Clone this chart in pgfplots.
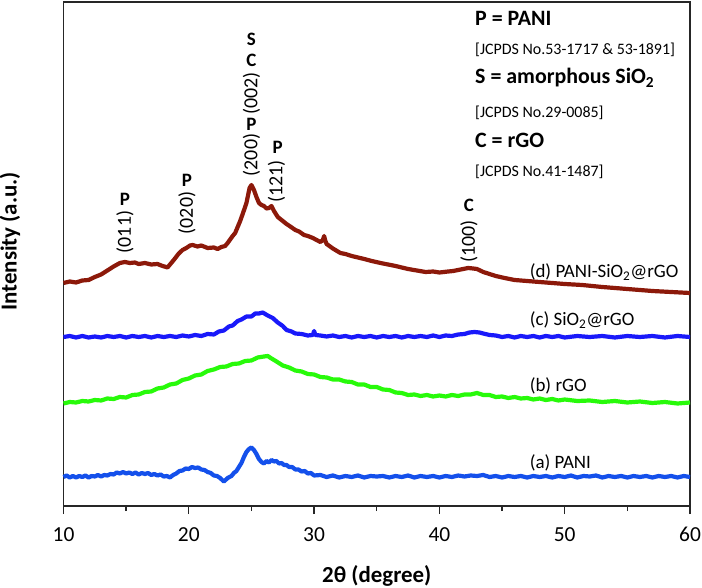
\documentclass[border=0pt]{standalone}
\usepackage{fontspec}
\setmainfont{Carlito}
\usepackage{pgfplots}
\pgfplotsset{compat=1.18}
\definecolor{cpani}{RGB}{20,80,235}
\definecolor{crgo}{RGB}{40,250,10}
\definecolor{csirgo}{RGB}{25,25,250}
\definecolor{ccomp}{RGB}{140,25,10}
\begin{document}
\begin{tikzpicture}
\useasboundingbox (-63.5bp,-82bp) rectangle (638.5bp,506bp);
\begin{axis}[
 scale only axis, width=626.5bp, height=504bp,
 at={(0,0)}, anchor=south west,
 xmin=10, xmax=60, ymin=0, ymax=504,
 xtick={10,20,...,60}, minor xtick={15,25,...,55},
 ytick=\empty, xtick pos=lower, tick align=outside,
 major tick length=8bp, minor tick length=5bp,
 axis line style={line width=1.6bp, color=black!85},
 every tick/.style={line width=1.4bp, color=black!85},
 /pgf/number format/assume math mode=true,
 ticklabel style={font=\fontsize{21.5}{24}\selectfont},
 xticklabel style={yshift=-10bp},
 xlabel={\bfseries 2θ (degree)},
 ylabel={\bfseries Intensity (a.u.)},
 label style={font=\fontsize{23}{26}\selectfont},
 xlabel style={at={(axis description cs:0.5,-0.139)}, anchor=center},
 ylabel style={at={(axis description cs:-0.0854,0.525)}, anchor=center},
 clip=false,
 every axis plot/.append style={line width=4.2bp, line join=round, no markers},
]
% (a) PANI
\addplot[cpani] coordinates {(10,29)(10.25,30.5)(10.5,28.5)(10.75,30)(11,28.5)(11.25,30)(11.5,29)(11.75,30.5)(12,28.5)(12.25,30)(12.5,29.5)(12.75,31)(13,29.5)(13.25,31)(13.5,30.5)(13.75,32)(14,31.5)(14.25,33.5)(14.5,32.5)(14.75,34)(15,32.5)(15.25,33.5)(15.5,32)(15.75,33.5)(16,31.5)(16.25,33)(16.5,32)(16.75,33)(17,31)(17.25,32)(17.5,30.5)(17.75,31.5)(18,29.5)(18.25,30)(18.5,28.5)(18.75,31)(19,32.5)(19.25,35)(19.5,35.5)(19.75,37.5)(20,37)(20.25,39)(20.5,38)(20.75,38.5)(21,36.5)(21.25,36)(21.5,34)(21.75,33)(22,30.5)(22.25,30)(22.5,28)(22.8,24.5)(23.1,28)(23.4,30)(23.6,33)(23.8,35)(24,39)(24.2,43)(24.4,49)(24.6,54)(24.8,57)(25,58.5)(25.2,56)(25.4,52)(25.6,47)(25.8,44)(26,42.5)(26.2,45)(26.4,43.5)(26.6,46)(26.8,44.5)(27,45)(27.2,42.5)(27.4,43)(27.6,41)(27.8,41)(28,39)(28.25,39)(28.5,36.5)(28.75,36.5)(29,34.5)(29.25,35)(29.5,32.5)(29.75,33)(30,30.5)(30.5,31)(31,29)(31.5,30.5)(32,28.5)(32.5,30)(33,29)(33.5,30.5)(34,28.5)(34.5,30)(35,29.5)(35.5,30)(36,28.5)(36.5,30)(37,29)(37.5,30.5)(38,28.5)(38.5,30)(39,29)(39.5,30)(40,28.5)(40.5,30)(41,29)(41.5,30.5)(42,29.5)(42.5,30.5)(43,30)(43.5,31)(44,29)(44.5,30)(45,28.5)(45.5,30)(46,29)(46.5,30)(47,28.5)(47.5,30)(48,29)(48.5,30)(49,28.5)(49.5,30)(50,29)(50.5,30.5)(51,28.5)(51.5,30)(52,29.5)(52.5,30.5)(53,28.5)(53.5,30)(54,29)(54.5,30)(55,28.5)(55.5,30)(56,29)(56.5,30)(57,28.5)(57.5,30)(58,29)(58.5,30)(59,28.5)(59.5,30)(60,29)};
% (b) rGO
\addplot[crgo] coordinates {(10,102.5)(10.5,104)(11,103.5)(11.5,105)(12,104.5)(12.5,106)(13,105.5)(13.5,107.5)(14,107)(14.5,109)(15,108.5)(15.5,111)(16,111.5)(16.5,114)(17,114.5)(17.5,117.5)(18,118.5)(18.5,121.5)(19,122.5)(19.5,126)(20,127.5)(20.5,130.5)(21,131.5)(21.5,135)(22,136.5)(22.5,139)(23,139.5)(23.5,142)(24,142.5)(24.5,145)(25,145.5)(25.5,148.5)(26,149.5)(26.3,150)(26.6,147.5)(27,144.5)(27.5,140.5)(28,138.5)(28.5,135.5)(29,134.5)(29.5,132)(30,131.5)(30.5,129)(31,128.5)(31.5,126.5)(32,126.5)(32.5,124.5)(33,124)(33.5,121.5)(34,121.5)(34.5,119)(35,119)(35.5,116.5)(36,116)(36.5,113.5)(37,113)(37.5,111)(38,111.5)(38.5,110)(39,111)(39.5,109.5)(40,110.5)(40.5,109.5)(41,111)(41.5,110)(42,111.5)(42.5,111.5)(43,113)(43.5,111)(44,111)(44.5,109)(45,109.5)(45.5,108)(46,109)(46.5,107.5)(47,108)(47.5,106.5)(48,107.5)(48.5,106)(49,107)(49.5,105.5)(50,106.5)(51,105)(52,105.5)(53,104)(54,105)(55,103.5)(56,104.5)(57,103)(58,104)(59,102.5)(60,103.5)};
% (c) SiO2@rGO
\addplot[csirgo] coordinates {(10,169)(10.5,170)(11,168.5)(11.5,170)(12,168.5)(12.5,169.5)(13,168.5)(13.5,170)(14,169)(14.5,170)(15,168.5)(15.5,170)(16,169)(16.5,170)(17,168.5)(17.5,170)(18,169)(18.5,170)(19,169)(19.5,170.5)(20,169.5)(20.5,171)(21,170)(21.5,172)(22,171.5)(22.4,174.5)(22.8,175.5)(23.2,179.5)(23.5,180.5)(23.9,185)(24.2,186.5)(24.6,189.5)(25,189.5)(25.3,192.5)(25.6,192.5)(25.9,193.5)(26.3,190.5)(26.7,188)(27.1,183.5)(27.5,180)(27.8,176)(28.2,174.5)(28.5,172.5)(29,172)(29.5,170.5)(29.9,171)(30,175)(30.1,171)(30.5,170.5)(31,169.5)(31.5,170.5)(32,169)(32.5,170)(33,168.5)(33.5,170)(34,169)(34.5,170)(35,168.5)(35.5,170)(36,169)(36.5,170)(37,168.5)(37.5,170)(38,169)(38.5,170)(39,169)(39.5,170.5)(40,169)(40.5,170.5)(41,170)(41.5,171.5)(42,172)(42.4,173.5)(42.8,174)(43.2,173.5)(43.5,172.5)(44,171)(44.5,170.5)(45,169)(45.5,170)(46,168.5)(46.5,170)(47,169)(47.5,170)(48,168.5)(48.5,170)(49,169)(49.5,170)(50,168.5)(51,170)(52,169)(53,170)(54,168.5)(55,170)(56,169)(57,170)(58,168.5)(59,170)(60,169)};
% (d) PANI-SiO2@rGO
\addplot[ccomp] coordinates {(10,223)(10.5,224.5)(11,223.5)(11.5,225.5)(12,226)(12.5,229)(13,231.5)(13.5,235.5)(14,239.5)(14.5,243)(14.9,244)(15.3,243)(15.7,243.5)(16,242)(16.5,243)(17,241.5)(17.5,242)(17.8,240.5)(18.3,238.5)(18.6,243)(18.8,246)(19.2,252.5)(19.5,256)(19.8,258)(20.1,260.5)(20.3,261)(20.7,259.5)(21,260.5)(21.5,258)(22,258.5)(22.3,257)(22.6,259)(22.9,260)(23.1,263)(23.5,270)(23.7,273)(23.9,279)(24.1,285)(24.3,292)(24.6,303)(24.85,318)(25.0,321)(25.2,316)(25.4,309)(25.6,303)(25.8,301)(26,300)(26.2,297.5)(26.4,298)(26.6,300)(26.8,295)(27.1,289)(27.4,286)(27.8,282)(28.1,279.5)(28.5,276)(28.8,274.5)(29.2,271)(29.5,270)(29.9,268)(30.2,266)(30.5,264)(30.7,266)(30.8,270)(30.9,265)(31.0,262)(31.5,257.5)(32.1,253)(32.5,252)(33,250)(33.5,248.5)(34,247)(34.6,245)(35.3,243)(35.9,241.5)(36.5,240)(37,238.5)(37.5,237)(38.2,235.5)(38.9,234)(39.5,234.5)(40,233.5)(40.7,234.5)(41.1,235)(41.5,236)(41.9,237)(42.3,238)(42.7,237.5)(43,237)(43.5,234)(44,232)(44.5,230)(45.2,228)(46,226)(47,225)(48,224)(49,223)(50,222)(51.4,221)(52.2,220)(53,219)(54,218)(55,217)(56,216)(57,215)(58.5,214)(60,213)};
% legend block
\node[anchor=west, font=\fontsize{22}{24}\selectfont\bfseries, inner sep=0pt] at (axis cs:42.84,488) {P = PANI};
\node[anchor=west, font=\fontsize{16}{18}\selectfont, inner sep=0pt] at (axis cs:42.84,456) {[JCPDS No.53-1717 \& 53-1891]};
\node[anchor=west, font=\fontsize{22}{24}\selectfont\bfseries, inner sep=0pt] at (axis cs:42.84,428) {S = amorphous SiO\textsubscript{2}};
\node[anchor=west, font=\fontsize{16}{18}\selectfont, inner sep=0pt] at (axis cs:42.84,393) {[JCPDS No.29-0085]};
\node[anchor=west, font=\fontsize{22}{24}\selectfont\bfseries, inner sep=0pt] at (axis cs:42.84,366) {C = rGO};
\node[anchor=west, font=\fontsize{16}{18}\selectfont, inner sep=0pt] at (axis cs:42.84,334) {[JCPDS No.41-1487]};
% curve labels
\node[anchor=west, font=\fontsize{19}{21}\selectfont, inner sep=0pt] at (axis cs:47.2,234) {(d) PANI-SiO\textsubscript{2}@rGO};
\node[anchor=west, font=\fontsize{19}{21}\selectfont, inner sep=0pt] at (axis cs:47.2,186) {(c) SiO\textsubscript{2}@rGO};
\node[anchor=west, font=\fontsize{19}{21}\selectfont, inner sep=0pt] at (axis cs:47.2,120) {(b) rGO};
\node[anchor=west, font=\fontsize{19}{21}\selectfont, inner sep=0pt] at (axis cs:47.2,43) {(a) PANI};
% peak annotations
\tikzset{hkl/.style={rotate=90, font=\fontsize{20}{22}\selectfont, inner sep=0pt}, ph/.style={font=\fontsize{19}{21}\selectfont\bfseries, inner sep=0pt}}
\node[hkl] at (axis cs:14.9,274) {(011)};
\node[ph] at (axis cs:14.9,307) {P};
\node[hkl] at (axis cs:19.85,293) {(020)};
\node[ph] at (axis cs:19.85,326) {P};
\node[hkl] at (axis cs:25.0,351) {(200)};
\node[ph] at (axis cs:25.0,382) {P};
\node[hkl] at (axis cs:25.0,412.5) {(002)};
\node[ph] at (axis cs:25.0,446) {C};
\node[ph] at (axis cs:25.0,467) {S};
\node[hkl] at (axis cs:27.0,324.5) {(121)};
\node[ph] at (axis cs:27.1,359) {P};
\node[hkl] at (axis cs:42.35,264.5) {(100)};
\node[ph] at (axis cs:42.35,301) {C};
\end{axis}
\end{tikzpicture}
\end{document}
